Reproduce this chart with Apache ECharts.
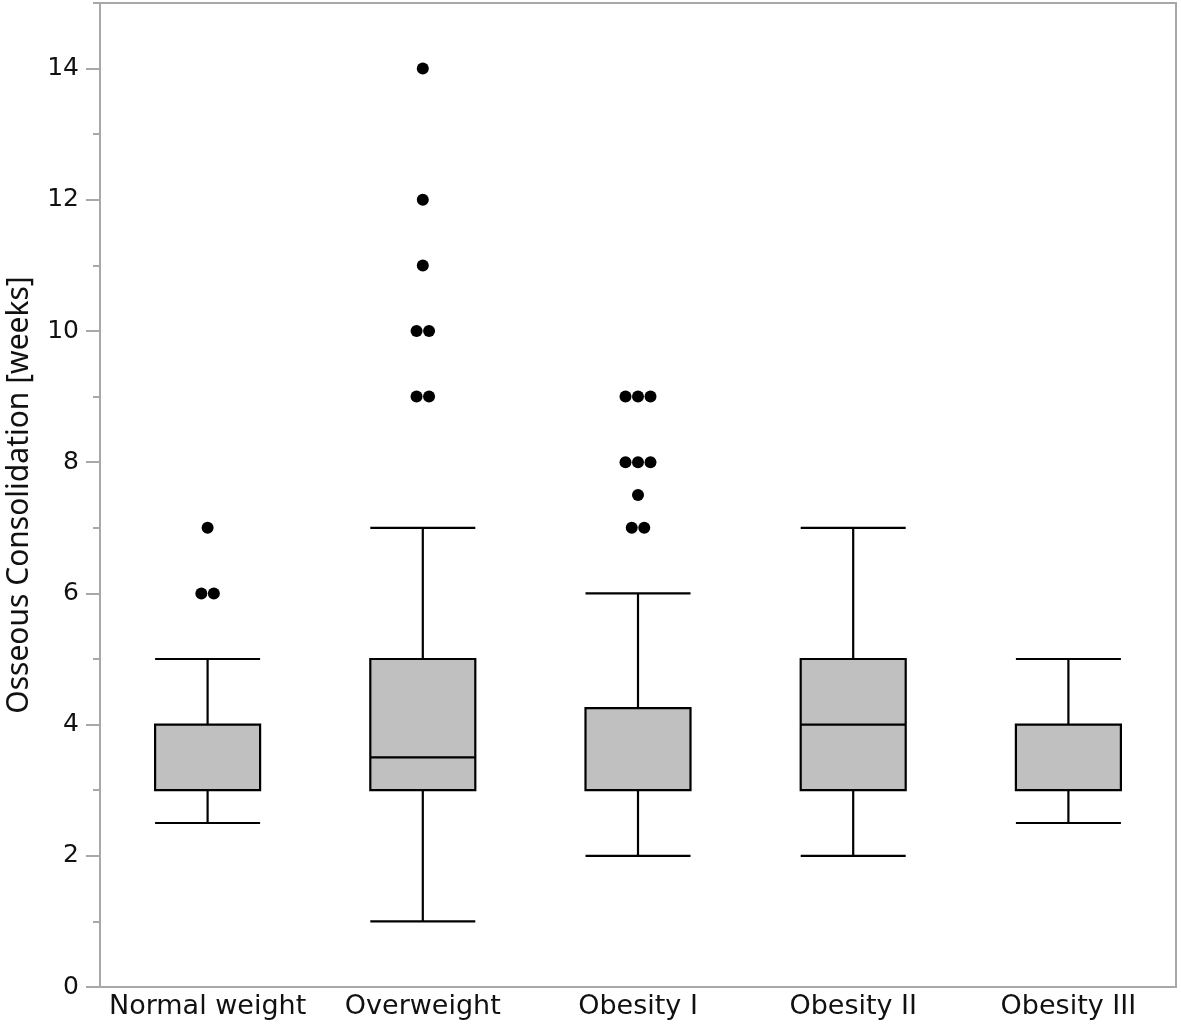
<!DOCTYPE html>
<html><head><meta charset="utf-8">
<script src="https://cdn.jsdelivr.net/npm/echarts@6/dist/echarts.min.js"></script>
<style>html,body{margin:0;padding:0;background:#fff}#c{width:1181px;height:1029px}</style>
</head><body><div id="c"></div>
<script>
const categories = ['Normal weight', 'Overweight', 'Obesity I', 'Obesity II', 'Obesity III'];
// [min, Q1, median, Q3, max]
const boxValues = [
  [2.5, 3, 3, 4, 5],
  [1, 3, 3.5, 5, 7],
  [2, 3, 3, 4.25, 6],
  [2, 3, 4, 5, 7],
  [2.5, 3, 3, 4, 5]
];
// outliers: [categoryIndex, value]
const outliers = [
  [0, 6], [0, 6], [0, 7],
  [1, 9], [1, 9], [1, 10], [1, 10], [1, 11], [1, 12], [1, 14],
  [2, 7], [2, 7], [2, 7.5], [2, 8], [2, 8], [2, 8], [2, 9], [2, 9], [2, 9]
];
const yTicks = [0, 2, 4, 6, 8, 10, 12, 14];

// spread coincident outliers side by side
const groups = {};
outliers.forEach(o => { const k = o[0] + '_' + o[1]; groups[k] = (groups[k] || 0) + 1; });
const seen = {};
const scatterData = outliers.map(o => {
  const k = o[0] + '_' + o[1];
  const n = groups[k];
  const i = (seen[k] = (seen[k] || 0) + 1) - 1;
  const off = (i - (n - 1) / 2) * 12.5;
  return { value: [categories[o[0]], o[1]], symbolOffset: [off, 0] };
});

const W = 1181, L = 100, R = 5;
const labelFont = '"DejaVu Sans", sans-serif';
const titleFont = '"Noto Sans", sans-serif';
const gray = '#a8a8a8';
const chart = echarts.init(document.getElementById('c'), null, { renderer: 'canvas' });
chart.setOption({
  animation: false,
  grid: { left: L, right: R, top: 3, bottom: 42, show: true, borderColor: gray, borderWidth: 2,
          backgroundColor: 'transparent', outerBoundsMode: 'none', containLabel: false },
  xAxis: {
    type: 'category', data: categories,
    axisLine: { lineStyle: { color: gray, width: 2 } },
    axisTick: { show: false },
    axisLabel: { interval: 0, color: '#111', fontFamily: labelFont, fontSize: 27, margin: 6, hideOverlap: false }
  },
  yAxis: [
    {
      type: 'value', min: 0, max: 15, interval: 1, position: 'left',
      name: 'Osseous Consolidation [weeks]', nameLocation: 'middle', nameGap: 66,
      nameMoveOverlap: false,
      nameTextStyle: { color: '#111', fontFamily: titleFont, fontSize: 30 },
      axisLine: { show: true, lineStyle: { color: gray, width: 2 } },
      axisTick: { show: true, length: 7, lineStyle: { color: gray, width: 2 } },
      axisLabel: {
        color: '#111', fontFamily: labelFont, fontSize: 25, margin: 21,
        formatter: v => yTicks.includes(v) ? String(v) : ''
      },
      splitLine: { show: false }
    },
    {
      type: 'value', min: 0, max: 15, interval: 1, position: 'right', offset: -(W - L - R),
      axisLine: { show: false }, axisLabel: { show: false }, splitLine: { show: false },
      axisTick: { show: true, inside: true, length: 14, customValues: yTicks,
                  interval: (i, v) => yTicks.includes(Number(v)),
                  lineStyle: { color: gray, width: 2 } }
    }
  ],
  series: [
    {
      type: 'boxplot', data: boxValues, boxWidth: [105, 105],
      itemStyle: { color: '#c0c0c0', borderColor: '#000', borderWidth: 2.2 },
      z: 2
    },
    {
      type: 'scatter', data: scatterData, symbol: 'circle', symbolSize: 12,
      itemStyle: { color: '#000', opacity: 1 }, z: 3
    }
  ]
});
</script></body></html>
